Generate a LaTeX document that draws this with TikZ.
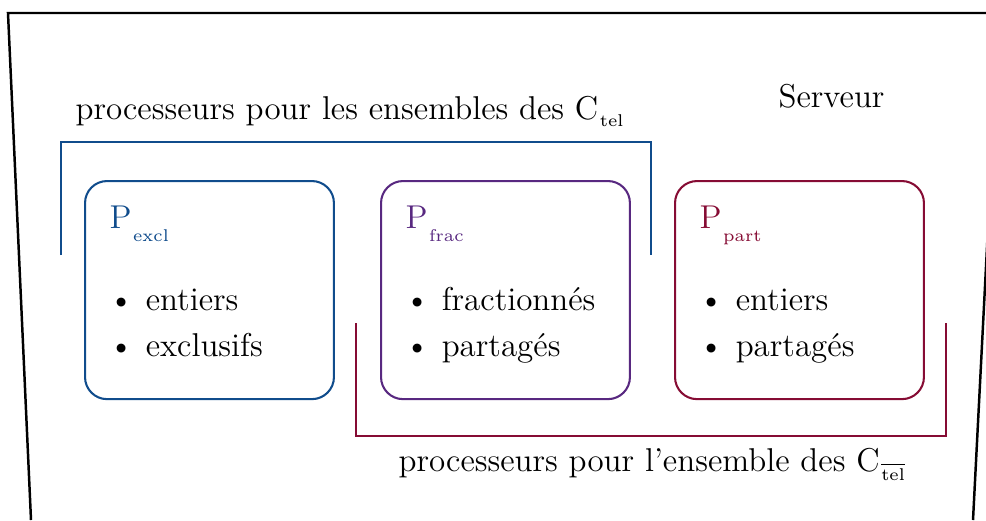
\documentclass[tikz,border=0pt]{standalone}
\usepackage{tikz}
\usetikzlibrary{calc}

\definecolor{coulexcl}{RGB}{16,76,140}
\definecolor{coulfrac}{RGB}{88,40,128}
\definecolor{coulpart}{RGB}{134,12,52}

\newcommand{\petit}{\fontsize{6.2}{7}\selectfont}
\newcommand{\proc}[1]{P\kern0.6pt\raisebox{-5pt}{\petit #1}}

\begin{document}
\begin{tikzpicture}[x=0.3636pt, y=-0.3636pt,
    boite/.style={draw, line width=0.75pt, rounded corners=8pt,
        minimum width=90.5pt, minimum height=79.3pt, inner sep=0pt, anchor=north west},
    crochet/.style={line width=0.75pt},
    titre/.style={anchor=base west, font=\large, inner sep=0pt},
    puce/.style={anchor=base west, font=\large, inner sep=0pt}]
    \useasboundingbox (0,0) rectangle (986,520);
    \clip (0,0) rectangle (986,520);
    % le serveur
    \draw[line width=0.9pt] (31,520) -- (8,13) -- (999,13) -- (973,520);
    \node[anchor=base west, font=\large, inner sep=0pt] (serveur) at (778,107) {Serveur};
    % les trois boites
    \node[boite, draw=coulexcl] (excl) at (84,180) {};
    \node[boite, draw=coulfrac] (frac) at (380,180) {};
    \node[boite, draw=coulpart] (part) at (674,180) {};
    \node[titre, text=coulexcl] (texcl) at ($(excl.north west)+(25,48)$) {\proc{excl}};
    \node[titre, text=coulfrac] (tfrac) at ($(frac.north west)+(25,48)$) {\proc{frac}};
    \node[titre, text=coulpart] (tpart) at ($(part.north west)+(25,48)$) {\proc{part}};
    \node[puce] (excla) at ($(excl.north west)+(24,130)$) {\textbullet\hspace{4.4pt}entiers};
    \node[puce] (exclb) at ($(excl.north west)+(24,176)$) {\textbullet\hspace{4.4pt}exclusifs};
    \node[puce] (fraca) at ($(frac.north west)+(24,130)$) {\textbullet\hspace{4.4pt}fractionnés};
    \node[puce] (fracb) at ($(frac.north west)+(24,176)$) {\textbullet\hspace{4.4pt}partagés};
    \node[puce] (parta) at ($(part.north west)+(24,130)$) {\textbullet\hspace{4.4pt}entiers};
    \node[puce] (partb) at ($(part.north west)+(24,176)$) {\textbullet\hspace{4.4pt}partagés};
    % les crochets
    \draw[crochet, coulexcl] (61,255) -- (61,142) -- (651,142) -- (651,255);
    \draw[crochet, coulpart] (356,323) -- (356,436) -- (946,436) -- (946,323);
    \node[titre] (ctel) at (75,119)
        {processeurs pour les ensembles des C\kern0.6pt\raisebox{-2.6pt}{\petit tel}};
    \node[titre] (cnontel) at (398,471)
        {processeurs pour l'ensemble des C\kern0.6pt\raisebox{-3.4pt}{\petit$\overline{\mbox{tel}}$}};
\end{tikzpicture}
\end{document}
